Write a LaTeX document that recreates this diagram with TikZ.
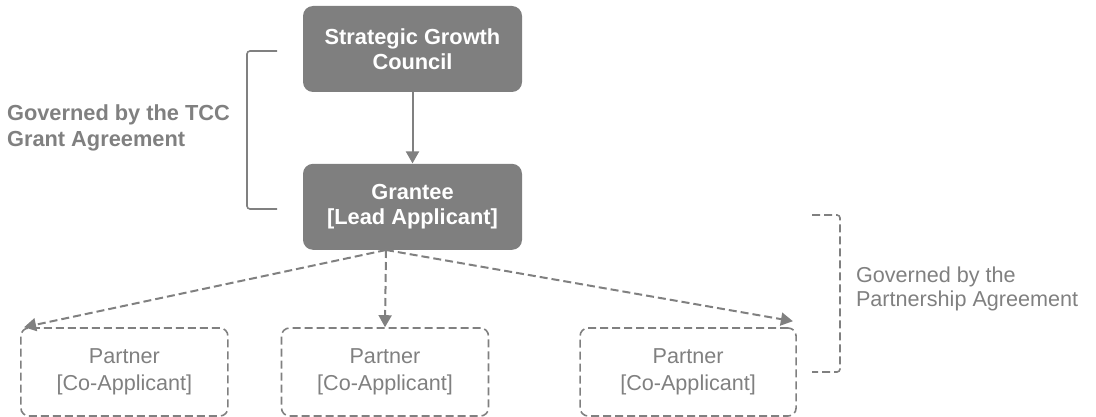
\documentclass[tikz,border=0pt]{standalone}
\usepackage{fontspec}
\setmainfont{Liberation Sans}
\usepackage{tikz}
\usetikzlibrary{arrows.meta, positioning}
\definecolor{boxgray}{HTML}{7F7F7F}
\definecolor{linegray}{HTML}{808080}

\begin{document}
\begin{tikzpicture}[
	x=0.5pt, y=-0.5pt,
	font=\fontsize{10.8}{12.5}\selectfont,
	solidbox/.style={fill=boxgray, rounded corners=5pt, text=white,
		font=\fontsize{10.9}{12.3}\selectfont\bfseries, align=center,
		minimum width=109.5pt, minimum height=43pt},
	partnerbox/.style={draw=linegray, line width=0.8pt, dash pattern=on 4pt off 2pt,
		rounded corners=4pt, text=linegray, align=center,
		font=\fontsize{10.8}{13.3}\selectfont,
		minimum width=103.5pt, minimum height=44pt},
	grantarrow/.style={-{Triangle[length=6pt,width=6.5pt]}, draw=linegray, line width=1pt},
	partnerarrow/.style={grantarrow, dash pattern=on 4pt off 2pt}
	]
	\useasboundingbox (0,0) rectangle (1096,417);

	% Council -> Grantee
	\node[solidbox] (sgc) at (412.5,49) {Strategic Growth\\Council};
	\node[solidbox] (grantee) [below=35.5pt of sgc] {Grantee\\{[}Lead Applicant{]}};
	\draw[grantarrow] (sgc) -- (grantee);

	% TCC bracket
	\draw[linegray, line width=0.8pt, rounded corners=1.5pt]
		(277,51) -- (247,51) -- (247,209) -- (277,209);
	\node[text=linegray, font=\fontsize{10.9}{13}\selectfont\bfseries, align=left, anchor=west]
		(tcc) at (0,128) {Governed by the TCC\\Grant Agreement};

	% Grantee -> partners
	\node[partnerbox] (p2) at (385,372) {Partner\\{[}Co-Applicant{]}};
	\node[partnerbox] (p1) [left=26pt of p2] {Partner\\{[}Co-Applicant{]}};
	\node[partnerbox, minimum width=108pt] (p3) [right=45pt of p2] {Partner\\{[}Co-Applicant{]}};
	\coordinate (fork) at (386,250);
	\draw[partnerarrow] (fork) -- ([xshift=2pt]p1.north west);
	\draw[partnerarrow] (fork) -- (p2.north);
	\draw[partnerarrow] (fork) -- ([xshift=-2pt,yshift=3pt]p3.north east);

	% partnership bracket
	\draw[linegray, line width=0.8pt, dash pattern=on 4pt off 2pt, rounded corners=1.5pt]
		(812,215) -- (840,215) -- (840,372) -- (812,372);
	\node[text=linegray, align=left, anchor=west, font=\fontsize{10.8}{12}\selectfont]
		(pa) at (849,289) {Governed by the\\Partnership Agreement};
\end{tikzpicture}
\end{document}
